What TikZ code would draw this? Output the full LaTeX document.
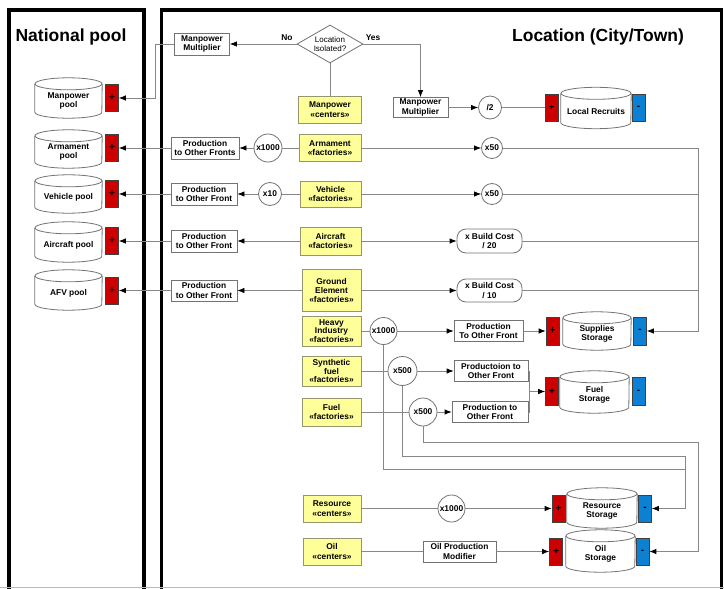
\documentclass[tikz,border=0pt]{standalone}
\usepackage{fontspec}
\setmainfont{Liberation Sans}
\usetikzlibrary{shapes.geometric,arrows.meta,calc}
\definecolor{boxyel}{RGB}{255,255,153}
\definecolor{yelline}{RGB}{150,150,110}
\definecolor{plusred}{RGB}{204,0,0}
\definecolor{minusblue}{RGB}{12,128,210}
\definecolor{wire}{RGB}{135,135,135}
\definecolor{boxline}{RGB}{115,115,115}
% name, centre, width, height, text; the text sits 3pt below the centre
\newcommand\cylnode[5]{%
  \node[cyl, minimum width=#3pt, minimum height=#4pt] (#1) at ([yshift=-3pt]#2) {#5};
  \draw[cylline] ([yshift=-3pt]#1.north west) -- ([yshift=9pt]#1.south west)
    arc[start angle=180, end angle=360, x radius=#3pt/2, y radius=6pt]
    -- ([yshift=-3pt]#1.north east);
  \draw[cylline] ([yshift=-3pt]#1.north) ellipse[x radius=#3pt/2, y radius=6pt];
}
\tikzset{
  txt/.style={font=\fontsize{8.4}{9.4}\selectfont\bfseries, align=center, inner sep=0pt},
  sz/.style 2 args={minimum width=#1pt, minimum height=#2pt},
  ybox/.style={txt, rectangle, draw=yelline, fill=boxyel, line width=0.8pt},
  wbox/.style={txt, rectangle, draw=boxline, fill=white, line width=0.8pt},
  rbox/.style={wbox, rounded corners=9pt},
  circ/.style={txt, circle, draw=boxline, fill=white, line width=0.8pt},
  plusbox/.style={rectangle, draw=black!75, fill=plusred, line width=0.6pt, minimum width=13pt, minimum height=27pt, inner sep=0pt, font=\fontsize{10}{10}\selectfont\bfseries},
  minusbox/.style={rectangle, draw=black!75, fill=minusblue, line width=0.6pt, minimum width=13pt, minimum height=27pt, inner sep=0pt, font=\fontsize{10}{10}\selectfont\bfseries},
  cyl/.style={txt},
  cylline/.style={draw=boxline, line width=0.8pt},
  conn/.style={draw=wire, line width=0.8pt},
  arr/.style={conn, -{Latex[color=black, length=7pt, width=5.5pt]}},
  title/.style={font=\fontsize{17.5}{20}\selectfont\bfseries, inner sep=0pt},
  lbl/.style={font=\fontsize{8.4}{9}\selectfont\bfseries, inner sep=0pt},
  panel/.style={line width=3.5pt, draw=black},
}
\begin{document}
\begin{tikzpicture}[x=1pt,y=-1pt]
\useasboundingbox (0,0) rectangle (724,589);
% panels
\draw[panel] (9,592) -- (9,10) -- (144,10) -- (144,592);
\draw[panel] (161.5,592) -- (161.5,10) -- (721.5,10) -- (721.5,592);
\draw[gray!55, line width=0.8pt] (0,587.5) -- (724,587.5);
\node[title] (tNat) at (71,37) {National pool};
\node[title] (tLoc) at (598,37) {Location (City/Town)};

% national pools
\cylnode{cMan}{68.5,98}{67}{40}{Manpower\\pool}
\cylnode{cArm}{68.5,149}{67}{38}{Armament\\pool}
\cylnode{cVeh}{68.5,194}{67}{38}{Vehicle pool}
\cylnode{cAir}{68.5,242}{67}{40}{Aircraft pool}
\cylnode{cAFV}{68.5,290}{67}{40}{AFV pool}
\node[plusbox] (pMan) at (112,98) {+};
\node[plusbox] (pArm) at (112,148) {+};
\node[plusbox] (pVeh) at (112,194) {+};
\node[plusbox] (pAir) at (112,241) {+};
\node[plusbox] (pAFV) at (112,290.5) {+};

% manpower
\node[diamond, draw=boxline, line width=0.8pt, fill=white, inner sep=0pt, aspect=1.74, minimum width=66pt, minimum height=38pt, align=center, font=\fontsize{8}{9}\selectfont] (dIso) at (330,44) {Location\\Isolated?};
\node[lbl] (lNo) at (287,38) {No};
\node[lbl] (lYes) at (373,38) {Yes};
\node[wbox, sz={55}{22}] (mmL) at (202,44) {Manpower\\Multiplier};
\node[ybox, sz={63}{27}] (mpC) at (330,109.5) {Manpower\\«centers»};
\node[wbox, sz={55}{20}] (mmR) at (420.5,107.5) {Manpower\\Multiplier};
\node[circ, minimum size=23pt] (div2) at (490,107.5) {/2};
\node[plusbox] (lrPlus) at (551.5,107.5) {+};
\cylnode{cLR}{596,108}{70}{41}{Local Recruits}
\node[minusbox] (lrMinus) at (638.5,107.5) {-};

% armament
\node[ybox, sz={62}{27}] (armF) at (330,148) {Armament\\«factories»};
\node[circ, minimum size=28pt] (xA) at (268,148) {x1000};
\node[wbox, sz={68}{22}] (prodA) at (205,148) {Production\\to Other Fronts};
\node[circ, minimum size=21pt] (x50a) at (492,148) {x50};
% vehicle
\node[ybox, sz={61}{26}] (vehF) at (330.5,194) {Vehicle\\«factories»};
\node[circ, minimum size=23pt] (xV) at (270,194) {x10};
\node[wbox, sz={66}{22}] (prodV) at (204,194) {Production\\to Other Front};
\node[circ, minimum size=21pt] (x50b) at (492,194) {x50};
% aircraft
\node[ybox, sz={61}{28}] (airF) at (330.5,241) {Aircraft\\«factories»};
\node[wbox, sz={66}{22}] (prodAir) at (204,241) {Production\\to Other Front};
\node[rbox, sz={65}{24}] (bc20) at (489.5,241) {x Build Cost\\/ 20};
% ground element
\node[ybox, sz={59}{42}] (gndF) at (331.5,290.5) {Ground\\Element\\«factories»};
\node[wbox, sz={66}{21}] (prodG) at (204,290.5) {Production\\to Other Front};
\node[rbox, sz={65}{23}] (bc10) at (489.5,290.5) {x Build Cost\\/ 10};
% heavy industry
\node[ybox, sz={59}{30}, font=\fontsize{8.4}{8.8}\selectfont\bfseries] (heavyF) at (331.5,331) {Heavy\\Industry\\«factories»};
\node[circ, minimum size=27pt] (xH) at (383.5,331) {x1000};
\node[wbox, sz={69}{21}] (prodH) at (488.5,331) {Production\\To Other Front};
\node[plusbox, minimum height=28pt] (supPlus) at (552.5,331) {+};
\cylnode{cSup}{597,331}{68}{38}{Supplies\\Storage}
\node[minusbox, minimum height=28pt] (supMinus) at (640,331) {-};
% synthetic fuel
\node[ybox, sz={59}{30}, font=\fontsize{8.4}{8.8}\selectfont\bfseries] (synF) at (331.5,371) {Synthetic\\fuel\\«factories»};
\node[circ, minimum size=29pt] (xS) at (402.5,371) {x500};
\node[wbox, sz={74}{21}] (prodS) at (491,371) {Productoion to\\Other Front};
% fuel
\node[ybox, sz={59}{28}] (fuelF) at (331.5,412) {Fuel\\«factories»};
\node[circ, minimum size=28pt] (xF) at (423,412) {x500};
\node[wbox, sz={76}{21}] (prodF) at (490,412) {Production to\\Other Front};
\node[plusbox, minimum height=28pt] (fuelPlus) at (552,391.5) {+};
\cylnode{cFuel}{594.5,392}{69}{42}{Fuel\\Storage}
\node[minusbox, minimum height=28pt] (fuelMinus) at (638.5,391.5) {-};
% resource
\node[ybox, sz={58}{27}] (resF) at (332,508.5) {Resource\\«centers»};
\node[circ, minimum size=27pt] (xR) at (451.5,508.5) {x1000};
\node[plusbox] (resPlus) at (558.5,508.5) {+};
\cylnode{cRes}{602,508}{70}{40}{Resource\\Storage}
\node[minusbox] (resMinus) at (645,508.5) {-};
% oil
\node[ybox, sz={58}{27}] (oilF) at (332,551.5) {Oil\\«centers»};
\node[wbox, sz={73}{21}] (oilMod) at (459.5,551.5) {Oil Production\\Modifier};
\node[plusbox] (oilPlus) at (556,551.5) {+};
\cylnode{cOil}{600.5,551}{69}{42}{Oil\\Storage}
\node[minusbox] (oilMinus) at (642.5,551.5) {-};

% routing coordinates
\coordinate (mpBus) at (155,0);
\coordinate (busR) at (698,0);
\coordinate (busR2) at (685,0);
\coordinate (fb) at (529,0);
\coordinate (ly1) at (0,442);
\coordinate (ly2) at (0,456);
\coordinate (ly3) at (0,469);

% connectors: manpower
\draw[arr] (dIso.west) -- (mmL.east);
\draw[arr] (dIso.east) -| (mmR.north);
\draw[conn] (dIso.south) -- (mpC.north);
\draw[arr] (mmL.west) -| (mpBus |- pMan.east) -- (pMan.east);
\draw[arr] (mmR.east) -- (div2.west);
\draw[conn] (div2.east) -- (lrPlus.west);
% armament
\draw[conn] (armF.west) -- (xA.east);
\draw[arr] (xA.west) -- (prodA.east);
\draw[arr] (prodA.west) -- (pArm.east);
\draw[arr] (armF.east) -- (x50a.west);
\draw[arr] (x50a.east) -| (busR |- supMinus.east) -- (supMinus.east);
% vehicle
\draw[conn] (vehF.west) -- (xV.east);
\draw[arr] (xV.west) -- (prodV.east);
\draw[arr] (prodV.west) -- (pVeh.east);
\draw[arr] (vehF.east) -- (x50b.west);
\draw[conn] (x50b.east) -- (x50b.east -| busR);
% aircraft
\draw[arr] (airF.west) -- (prodAir.east);
\draw[arr] (prodAir.west) -- (pAir.east);
\draw[arr] (airF.east) -- (bc20.west);
\draw[conn] (bc20.east) -- (bc20.east -| busR);
% ground
\draw[arr] (gndF.west) -- (prodG.east);
\draw[arr] (prodG.west) -- (pAFV.east);
\draw[arr] (gndF.east) -- (bc10.west);
\draw[conn] (bc10.east) -- (bc10.east -| busR);
% heavy industry
\draw[conn] (heavyF.east) -- (xH.west);
\draw[arr] (xH.east) -- (prodH.west);
\draw[arr] (prodH.east) -- (supPlus.west);
% synthetic fuel
\draw[conn] (synF.east) -- (xS.west);
\draw[arr] (xS.east) -- (prodS.west);
% fuel
\draw[conn] (fuelF.east) -- (xF.west);
\draw[arr] (xF.east) -- (prodF.west);
\draw[conn] (prodS.east) -| (fb |- prodF.east) -- (prodF.east);
\draw[arr] (fb |- fuelPlus.west) -- (fuelPlus.west);
% long loops
\draw[arr] (xF.south) |- (busR |- ly1) -- (busR |- oilMinus.east) -- (oilMinus.east);
\draw[arr] (xS.south) |- (busR2 |- ly2) -- (busR2 |- resMinus.east) -- (resMinus.east);
\draw[conn] (xH.south) |- (busR2 |- ly3);
% resource and oil
\draw[conn] (resF.east) -- (xR.west);
\draw[arr] (xR.east) -- (resPlus.west);
\draw[conn] (oilF.east) -- (oilMod.west);
\draw[arr] (oilMod.east) -- (oilPlus.west);
\end{tikzpicture}
\end{document}
